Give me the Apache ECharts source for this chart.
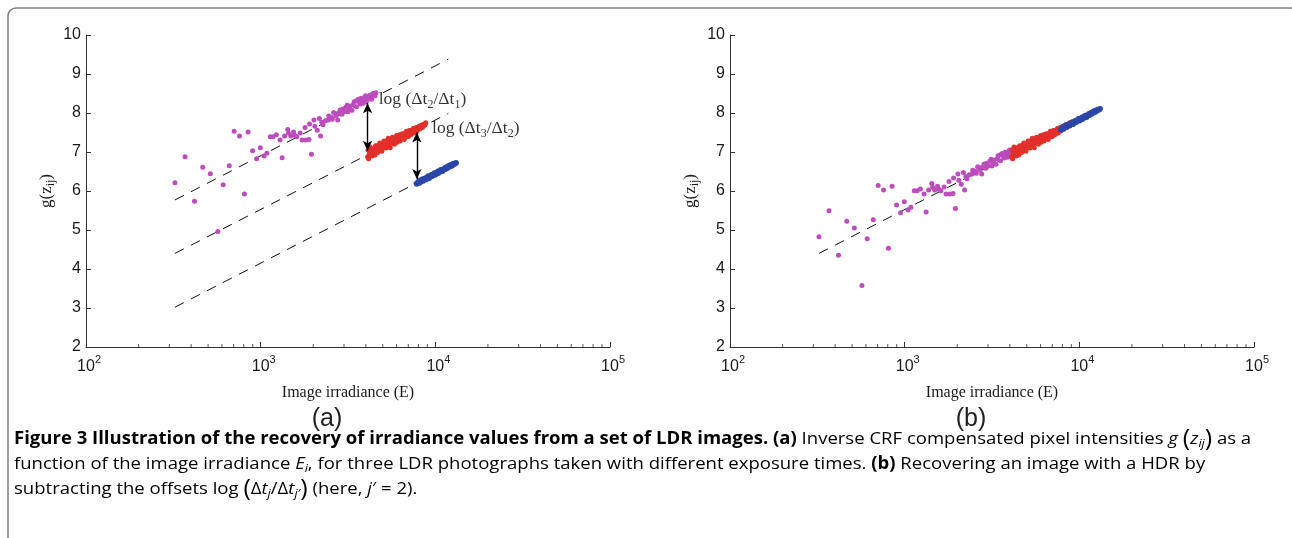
<!DOCTYPE html>
<html>
<head>
<meta charset="utf-8">
<script src="https://cdn.jsdelivr.net/npm/echarts@6/dist/echarts.min.js"></script>
<style>
  html, body { margin: 0; padding: 0; background: #fff; }
  #chart { width: 1292px; height: 538px; }
</style>
</head>
<body>
<div id="chart"></div>
<script>
// Pixel samples [irradiance E, g(z_ij)] for the three LDR photographs
const photo1 = [[323,6.21],[369,6.88],[418,5.74],[466,6.61],[515,6.44],[569,4.96],[610,6.16],[661,6.65],[705,7.53],[757,7.41],[807,5.92],[847,7.51],[899,7.03],[948,6.83],[995,7.11],[1045,6.90],[1086,6.97],[1135,7.39],[1178,7.39],[1230,7.44],[1291,7.31],[1327,6.85],[1371,7.41],[1429,7.58],[1445,7.48],[1486,7.41],[1542,7.51],[1567,7.43],[1611,7.39],[1683,7.49],[1726,7.31],[1795,7.63],[1811,7.31],[1892,7.32],[1905,7.72],[1954,6.94],[2018,7.82],[2042,7.66],[2109,7.56],[2168,7.86],[2203,7.41],[2239,7.76],[2275,7.70],[2350,7.80],[2438,7.82],[2455,7.92],[2535,7.89],[2570,7.84],[2618,8.01],[2692,7.92],[2761,7.82],[2786,8.00],[2851,8.08],[2917,7.97],[2951,8.10],[3013,8.03],[3076,8.15],[3126,8.20],[3162,8.03],[3199,8.12],[3251,8.18],[3334,8.07],[3388,8.21],[3428,8.29],[3508,8.31],[3540,8.16],[3614,8.35],[3673,8.28],[3715,8.23],[3758,8.38],[3819,8.32],[3873,8.25],[3926,8.40],[3981,8.44],[4027,8.29],[4074,8.34],[4140,8.37],[4188,8.44],[4256,8.46],[4315,8.35],[4365,8.42],[4416,8.50],[4487,8.49],[4519,8.44],[4571,8.52]];

const photo2 = [[4093,6.88],[4121,7.06],[4150,6.83],[4188,6.97],[4227,7.13],[4266,6.91],[4305,7.04],[4345,6.90],[4385,7.09],[4426,6.98],[4467,7.05],[4508,6.92],[4550,7.16],[4592,7.03],[4634,7.11],[4677,6.99],[4721,7.17],[4764,7.07],[4808,7.23],[4853,7.04],[4898,7.15],[4943,7.02],[4989,7.21],[5035,7.14],[5082,7.28],[5129,7.11],[5176,7.23],[5224,7.10],[5272,7.28],[5321,7.17],[5370,7.35],[5420,7.15],[5470,7.27],[5521,7.11],[5572,7.33],[5623,7.24],[5675,7.38],[5728,7.22],[5781,7.32],[5834,7.20],[5888,7.37],[5943,7.27],[5998,7.42],[6053,7.25],[6109,7.36],[6166,7.30],[6223,7.44],[6281,7.28],[6339,7.42],[6397,7.36],[6457,7.47],[6516,7.34],[6577,7.44],[6637,7.32],[6699,7.48],[6761,7.41],[6823,7.53],[6887,7.40],[6950,7.48],[7015,7.40],[7079,7.55],[7145,7.46],[7211,7.55],[7278,7.45],[7345,7.55],[7413,7.51],[7482,7.60],[7551,7.49],[7621,7.57],[7691,7.53],[7762,7.63],[7834,7.54],[7907,7.63],[7980,7.58],[8054,7.66],[8128,7.59],[8204,7.67],[8279,7.62],[8356,7.69],[8433,7.63],[8511,7.70],[8590,7.67],[8670,7.72],[8750,7.70],[8810,7.75]];

const photo3 = [[7762,6.19],[7834,6.17],[7907,6.23],[7980,6.20],[8054,6.26],[8128,6.20],[8204,6.26],[8279,6.23],[8356,6.31],[8433,6.27],[8511,6.25],[8590,6.32],[8670,6.29],[8750,6.34],[8831,6.28],[8913,6.34],[8995,6.31],[9078,6.39],[9162,6.35],[9247,6.32],[9333,6.40],[9419,6.37],[9506,6.43],[9594,6.37],[9683,6.43],[9772,6.40],[9863,6.47],[9954,6.43],[10046,6.41],[10139,6.48],[10233,6.45],[10328,6.51],[10423,6.45],[10520,6.51],[10617,6.48],[10715,6.55],[10815,6.51],[10914,6.56],[11015,6.50],[11117,6.56],[11220,6.54],[11324,6.60],[11429,6.55],[11535,6.61],[11641,6.58],[11749,6.64],[11858,6.59],[11967,6.65],[12078,6.63],[12190,6.68],[12303,6.63],[12417,6.68],[12531,6.65],[12647,6.71],[12764,6.68],[12882,6.71],[13002,6.69],[13122,6.73],[13213,6.72]];

// Offsets log(Δt_j/Δt_j') subtracted from each photograph in panel (b), with j' = 2
const offsetsB = [1.386, 0, -1.386];

// Dashed reference lines g = ln E + log Δt_j (end points)
const refLinesA = [
  [[323, 5.77], [11860, 9.38]],
  [[323, 4.40], [11860, 7.99]],
  [[323, 3.02], [7780, 6.20]]
];
const refLineB = [[323, 4.40], [4100, 6.93]];

// Double-headed arrows showing the exposure offsets
const offsetArrows = [
  [[4093, 8.25], [4093, 7.03]],
  [[7834, 7.50], [7834, 6.31]]
];
const arrowLabels = [
  { at: [4742, 8.36], num: '2', den: '1' },
  { at: [9572, 7.615], num: '3', den: '2' }
];

// Axis ticks
const yTicks = { min: 2, max: 10, step: 1 };
const xRange = { min: 100, max: 100000 };
const minorTickValues = [200,300,400,500,600,700,800,900,2000,3000,4000,5000,6000,7000,8000,9000,20000,30000,40000,50000,60000,70000,80000,90000];

const colors = { p1: '#bd4cbd', p2: '#e2302a', p3: '#2c46a8', axis: '#333333', text: '#1a1a1a' };

const sansFont = 'Liberation Sans';
const serifFont = 'Liberation Serif';

const grids = [
  { left: 86, top: 35, width: 524, height: 312 },
  { left: 730, top: 35, width: 524, height: 312 }
];

function xAxisFor(i) {
  return {
    type: 'log', logBase: 10, gridIndex: i, min: xRange.min, max: xRange.max,
    axisLine: { show: true, lineStyle: { color: colors.axis, width: 1 } },
    axisTick: { show: true, inside: true, length: 5, lineStyle: { color: colors.axis } },
    splitLine: { show: false },
    axisLabel: {
      margin: 12, showMinLabel: true, showMaxLabel: true,
      formatter: function (v) {
        const e = Math.round(Math.log10(v));
        return '{h|' + e + '}{m|10}{s|' + e + '}';
      },
      rich: {
        m: { fontFamily: sansFont, fontSize: 16, lineHeight: 16, color: colors.text },
        s: { fontFamily: sansFont, fontSize: 11, lineHeight: 11, padding: [0, 0, 14, 0], color: colors.text },
        h: { fontFamily: sansFont, fontSize: 11, lineHeight: 11, padding: [0, 0, 14, 0], color: 'rgba(0,0,0,0)' }
      }
    },
    name: 'Image irradiance (E)', nameLocation: 'middle', nameGap: 33,
    nameTextStyle: { fontFamily: serifFont, fontSize: 16, color: colors.text }
  };
}

function yAxisFor(i) {
  return {
    type: 'value', gridIndex: i, min: yTicks.min, max: yTicks.max, interval: yTicks.step,
    axisLine: { show: true, lineStyle: { color: colors.axis, width: 1 } },
    axisTick: { show: true, inside: true, length: 5, lineStyle: { color: colors.axis } },
    splitLine: { show: false },
    axisLabel: { margin: 5, fontFamily: sansFont, fontSize: 16, color: colors.text },
    name: '{m|g(z}{s|ij}{m|)}', nameLocation: 'middle', nameGap: 31, nameRotate: 90,
    nameTextStyle: {
      rich: {
        m: { fontFamily: serifFont, fontSize: 17, lineHeight: 17, color: colors.text },
        s: { fontFamily: serifFont, fontSize: 12, lineHeight: 12, padding: [9, 0, 0, 0], color: colors.text }
      }
    }
  };
}

function dashed(data, i) {
  return {
    type: 'line', xAxisIndex: i, yAxisIndex: i, data: data, showSymbol: false, symbol: 'none',
    silent: true, z: 1,
    lineStyle: { color: '#111', width: 1, type: [10, 8] }
  };
}

function dots(data, color, i) {
  return {
    type: 'scatter', xAxisIndex: i, yAxisIndex: i, data: data, symbol: 'circle', symbolSize: 5,
    silent: true, z: 3, itemStyle: { color: color, opacity: 1 }
  };
}

function minorTicks(i) {
  return {
    type: 'scatter', xAxisIndex: i, yAxisIndex: i, silent: true, z: 5, clip: false,
    data: minorTickValues.map(function (v) { return [v, yTicks.min]; }),
    symbol: 'rect', symbolSize: [1, 3], symbolOffset: [0, -1.5],
    itemStyle: { color: colors.axis }
  };
}

function shifted(data, off) {
  return data.map(function (p) { return [p[0], +(p[1] - off).toFixed(3)]; });
}

const labelRich = {
  m: { fontFamily: serifFont, fontSize: 17.5, lineHeight: 18, color: '#000' },
  s: { fontFamily: serifFont, fontSize: 12, lineHeight: 12, padding: [11, 0, 0, 0], color: '#000' }
};

const series = [];
refLinesA.forEach(function (l) { series.push(dashed(l, 0)); });
series.push(dots(photo1, colors.p1, 0));
series.push(dots(photo2, colors.p2, 0));
series.push(dots(photo3, colors.p3, 0));
series.push({
  type: 'scatter', xAxisIndex: 0, yAxisIndex: 0, symbolSize: 0, silent: true, z: 6,
  data: arrowLabels.map(function (a) {
    return {
      value: a.at,
      label: {
        show: true, position: 'right', distance: 0,
        formatter: '{m|log (Δt}{s|' + a.num + '}{m|/Δt}{s|' + a.den + '}{m|)}',
        rich: labelRich
      }
    };
  }),
  markLine: {
    silent: true, animation: false, symbol: ['arrow', 'arrow'], symbolSize: [7, 10],
    label: { show: false },
    lineStyle: { color: '#000', width: 1.4, type: 'solid' },
    emphasis: { disabled: true },
    data: offsetArrows.map(function (a) { return [{ coord: a[0] }, { coord: a[1] }]; })
  }
});
series.push(minorTicks(0));

series.push(dashed(refLineB, 1));
series.push(dots(shifted(photo1, offsetsB[0]), colors.p1, 1));
series.push(dots(shifted(photo2, offsetsB[1]), colors.p2, 1));
series.push(dots(shifted(photo3, offsetsB[2]), colors.p3, 1));
series.push(minorTicks(1));

// Caption: a semi-condensed look is approximated by a slightly widened Open Sans
const capFont = 'Open Sans';
const capSize = 17;
const capStretch = 1.09;
const capRich = {
  b: { fontFamily: capFont, fontSize: capSize, fontWeight: 'bold', lineHeight: 20, color: '#222' },
  r: { fontFamily: capFont, fontSize: capSize, lineHeight: 20, color: '#222' },
  i: { fontFamily: capFont, fontSize: capSize, fontStyle: 'italic', lineHeight: 20, color: '#222' },
  is: { fontFamily: capFont, fontSize: 11.5, fontStyle: 'italic', lineHeight: 11, padding: [10, 0, 0, 0], color: '#222' },
  p: { fontFamily: capFont, fontSize: 23, lineHeight: 23, color: '#222' }
};
const captionLines = [
  '{b|Figure 3 Illustration of the recovery of irradiance values from a set of LDR images. (a)}{r| Inverse CRF compensated pixel intensities }{i|g }{p|(}{i|z}{is|ij}{p|)}{r| as a}',
  '{r|function of the image irradiance }{i|E}{is|i}{r|, for three LDR photographs taken with different exposure times. }{b|(b)}{r| Recovering an image with a HDR by}',
  '{r|subtracting the offsets log }{p|(}{r|Δ}{i|t}{is|j}{r|/Δ}{i|t}{is|j′}{p|)}{r| (here, }{i|j}{r|′ = 2).}'
];
const captionY = [439, 464, 489];

const graphics = [
  { type: 'rect', silent: true, z: 0, shape: { x: 8, y: 8, width: 1290, height: 600, r: 8 },
    style: { fill: 'none', stroke: '#808080', lineWidth: 1.5 } },
  { type: 'text', x: 327, y: 419, silent: true,
    style: { text: '(a)', fontFamily: sansFont, fontSize: 25, fill: '#222', align: 'center', verticalAlign: 'middle' } },
  { type: 'text', x: 971, y: 419, silent: true,
    style: { text: '(b)', fontFamily: sansFont, fontSize: 25, fill: '#222', align: 'center', verticalAlign: 'middle' } }
];
captionLines.forEach(function (t, k) {
  graphics.push({ type: 'text', x: 14, y: captionY[k], scaleX: capStretch, silent: true,
    style: { text: t, rich: capRich, align: 'left', verticalAlign: 'middle' } });
});

const chart = echarts.init(document.getElementById('chart'), null, { renderer: 'canvas' });
chart.setOption({
  backgroundColor: '#ffffff',
  animation: false,
  grid: grids,
  xAxis: [xAxisFor(0), xAxisFor(1)],
  yAxis: [yAxisFor(0), yAxisFor(1)],
  series: series,
  graphic: graphics
});
</script>
</body>
</html>
